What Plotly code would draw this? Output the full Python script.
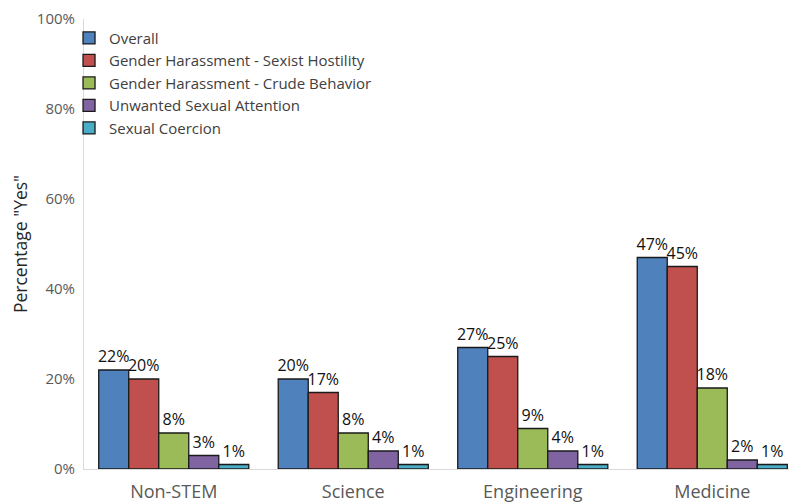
import plotly.graph_objects as go

categories = ['Non-STEM', 'Science', 'Engineering', 'Medicine']

overall = [22, 20, 27, 47]
sexist_hostility = [20, 17, 25, 45]
crude_behavior = [8, 8, 9, 18]
unwanted_attention = [3, 4, 4, 2]
sexual_coercion = [1, 1, 1, 1]

y_ticks = [0, 20, 40, 60, 80, 100]
y_tick_labels = ['0%', '20%', '40%', '60%', '80%', '100%']

series = [
    ('Overall', overall, '#4F81BD'),
    ('Gender Harassment - Sexist Hostility', sexist_hostility, '#C0504D'),
    ('Gender Harassment - Crude Behavior', crude_behavior, '#9BBB59'),
    ('Unwanted Sexual Attention', unwanted_attention, '#8064A2'),
    ('Sexual Coercion', sexual_coercion, '#4BACC6'),
]

FONT = 'Open Sans'

fig = go.Figure()

for name, vals, color in series:
    fig.add_trace(go.Bar(
        x=categories, y=vals,
        name=name,
        marker=dict(color=color, line=dict(color='#1a1a1a', width=1.3)),
        text=[f'{v}%' for v in vals],
        textposition='outside',
        constraintext='none',
        cliponaxis=False,
        textfont=dict(family=FONT, size=16, color='#111111'),
    ))

# page body adds an 8px offset, so the figure is sized to the visible area
fig.update_layout(
    width=789, height=494,
    margin=dict(l=76, r=0, t=11, b=33),
    paper_bgcolor='white',
    plot_bgcolor='white',
    barmode='group',
    bargap=0.164,
    bargroupgap=0,
    font=dict(family=FONT, color='#595959'),
    showlegend=True,
    legend=dict(
        x=-0.021, y=0.994, xanchor='left', yanchor='top',
        bgcolor='rgba(0,0,0,0)',
        font=dict(family=FONT, size=15, color='#404040'),
        itemwidth=30,
        tracegroupgap=0,
    ),
    xaxis=dict(
        range=[-0.5, 3.472],
        showgrid=False,
        showline=True, linecolor='#d9d9d9', linewidth=1,
        ticks='', ticklabelstandoff=6,
        tickfont=dict(family=FONT, size=18, color='#595959'),
        zeroline=False,
        automargin=False,
    ),
    yaxis=dict(
        range=[0, 100],
        tickmode='array',
        tickvals=y_ticks,
        ticktext=y_tick_labels,
        showgrid=False,
        showline=True, linecolor='#d9d9d9', linewidth=1,
        ticks='', ticklabelstandoff=5,
        tickfont=dict(family=FONT, size=15, color='#595959'),
        zeroline=False,
        automargin=False,
        title=dict(text='Percentage "Yes"', font=dict(family=FONT, size=17.5, color='#262626'), standoff=10),
    ),
)

fig.write_html('out.html')
